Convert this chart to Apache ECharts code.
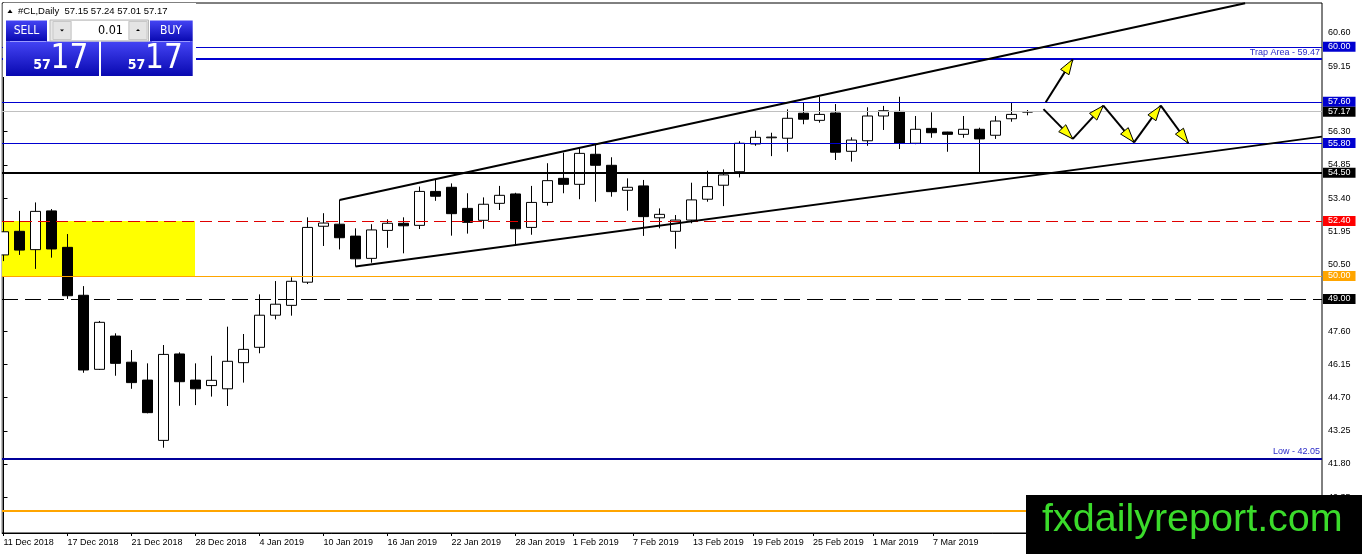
<!DOCTYPE html>
<html><head><meta charset="utf-8">
<script src="https://cdn.jsdelivr.net/npm/echarts@6/dist/echarts.min.js"></script>
<style>html,body{margin:0;padding:0;background:#fff}#c{width:1362px;height:554px}</style>
</head><body><div id="c"></div>
<script>
// ---------- DATA ----------
const dates = ['2018-12-11','2018-12-12','2018-12-13','2018-12-14','2018-12-17','2018-12-18','2018-12-19','2018-12-20','2018-12-21','2018-12-24','2018-12-26','2018-12-27','2018-12-28','2018-12-31','2019-01-02','2019-01-03','2019-01-04','2019-01-07','2019-01-08','2019-01-09','2019-01-10','2019-01-11','2019-01-14','2019-01-15','2019-01-16','2019-01-17','2019-01-18','2019-01-21','2019-01-22','2019-01-23','2019-01-24','2019-01-25','2019-01-28','2019-01-29','2019-01-30','2019-01-31','2019-02-01','2019-02-04','2019-02-05','2019-02-06','2019-02-07','2019-02-08','2019-02-11','2019-02-12','2019-02-13','2019-02-14','2019-02-15','2019-02-18','2019-02-19','2019-02-20','2019-02-21','2019-02-22','2019-02-25','2019-02-26','2019-02-27','2019-02-28','2019-03-01','2019-03-04','2019-03-05','2019-03-06','2019-03-07','2019-03-08','2019-03-11','2019-03-12','2019-03-13'];
const opens  = [50.92,51.95,51.15,52.84,51.25,49.16,45.93,47.38,46.24,45.46,42.83,46.60,45.46,45.22,45.08,46.22,46.89,48.29,48.72,49.73,52.17,52.26,51.74,50.77,51.99,52.30,52.21,53.69,53.87,52.95,52.43,53.17,53.58,52.12,53.21,54.26,54.00,55.31,54.83,53.74,53.93,52.54,51.95,52.44,53.35,53.96,54.55,55.76,56.03,56.01,57.10,56.79,57.11,55.44,55.90,56.98,57.18,55.79,56.44,56.28,56.18,56.40,56.14,56.86,57.15];
const highs  = [52.36,52.84,53.21,52.92,51.83,49.56,48.04,47.50,46.77,46.19,46.99,46.67,46.19,46.52,47.79,47.47,49.20,49.78,49.94,52.56,52.74,53.32,52.08,52.26,52.47,52.56,53.90,54.19,54.04,53.61,53.43,53.93,53.63,53.93,54.92,55.38,55.61,55.79,55.18,54.26,54.19,52.95,52.66,54.07,54.59,54.65,55.88,56.34,56.25,57.27,57.56,57.82,57.50,56.05,57.36,57.42,57.82,56.98,57.14,56.29,56.98,56.47,56.98,57.56,57.24];
const lows   = [50.65,50.92,50.31,50.80,49.00,45.78,45.90,45.65,45.08,44.01,42.51,44.34,44.37,44.74,44.33,45.35,46.63,48.11,48.27,49.65,51.31,51.16,50.41,50.58,51.23,50.99,52.05,53.28,51.76,51.85,52.06,52.88,51.31,51.80,53.07,53.61,53.35,53.24,53.46,52.85,51.75,52.08,51.19,52.30,53.24,53.05,54.30,55.68,55.23,55.42,56.62,56.69,55.06,54.99,55.68,56.37,55.54,55.75,56.03,55.42,56.03,54.51,55.98,56.73,57.01];
const closes = [51.93,51.13,52.82,51.18,49.14,45.90,47.98,46.19,45.35,44.04,46.58,45.39,45.08,45.45,46.28,46.80,48.29,48.77,49.77,52.12,52.31,51.67,50.75,52.01,52.30,52.19,53.69,53.48,52.72,52.34,53.13,53.52,52.06,53.21,54.16,54.00,55.35,54.83,53.68,53.87,52.59,52.69,52.44,53.32,53.90,54.41,55.79,56.05,56.06,56.88,56.84,57.05,55.40,55.93,56.98,57.21,55.79,56.40,56.25,56.18,56.40,55.98,56.76,57.05,57.17];

const xTickPos    = [0,4,8,12,16,20,24,28,32,35.6,39.35,43.1,46.85,50.6,54.35,58.1];
const xTickLabels = ['11 Dec 2018','17 Dec 2018','21 Dec 2018','28 Dec 2018','4 Jan 2019','10 Jan 2019','16 Jan 2019','22 Jan 2019','28 Jan 2019','1 Feb 2019','7 Feb 2019','13 Feb 2019','19 Feb 2019','25 Feb 2019','1 Mar 2019','7 Mar 2019'];
const yTickValues = [40.35,41.80,43.25,44.70,46.15,47.60,50.50,51.95,53.40,54.85,56.30,59.15,60.60];

// horizontal levels: 60.00, trap 59.47, 57.60, bid 57.17, 55.80, 54.50, 52.40, 50.00, 49.00, low 42.05, 39.75
const levels = [60.00, 59.47, 57.60, 57.17, 55.80, 54.50, 52.40, 50.00, 49.00, 42.05, 39.75];
const zoneX = [-0.09, 11.97];
const zoneY = [52.40, 50.00];
const upperChannel = [[21, 53.32], [77.6, 61.90]];
const lowerChannel = [[22, 50.41], [82.4, 56.08]];
const arrowUp = [[65.14, 57.58], [66.83, 59.45]];
const zigzag = [[65.0, 57.28], [66.83, 55.98], [68.74, 57.43], [70.66, 55.83], [72.33, 57.43], [74.05, 55.79]];
const header = '#CL,Daily  57.15 57.24 57.01 57.17';
const lotSize = '0.01';
const bidBig = ['57', '17'];
const askBig = ['57', '17'];
const watermark = 'fxdailyreport.com';

// ---------- BUILD ----------
const F = '"Liberation Sans", Arial, sans-serif';
const FN = '"Liberation Sans Narrow","DejaVu Sans Condensed","Liberation Sans",sans-serif';
const candles = dates.map((d, i) => [i, opens[i], closes[i], lows[i], highs[i]]);

const BLUE = '#0000D0';
function box(bg, fg) {
  return {show: true, position: 'end', distance: 1, formatter: p => Number(p.value).toFixed(2),
    backgroundColor: bg, color: fg || '#fff', fontSize: 9, fontFamily: F, padding: [1, 5, 0, 5], lineHeight: 9};
}
const levelStyles = [
  {lineStyle: {color: BLUE, width: 1, type: 'solid'}, label: box(BLUE)},
  {lineStyle: {color: BLUE, width: 2, type: 'solid'}, label: {show: true, position: 'insideEndTop', distance: 2, formatter: p => 'Trap Area - ' + Number(p.value).toFixed(2), color: '#2a2ac8', fontSize: 9, fontFamily: F}},
  {lineStyle: {color: BLUE, width: 1, type: 'solid'}, label: box(BLUE)},
  {lineStyle: {color: '#C0C0C0', width: 1, type: 'solid'}, label: box('#000')},
  {lineStyle: {color: BLUE, width: 1, type: 'solid'}, label: box(BLUE)},
  {lineStyle: {color: '#000', width: 2, type: 'solid'}, label: box('#000')},
  {lineStyle: {color: '#E00000', width: 1, type: [12, 6]}, label: box('#FF0000')},
  {lineStyle: {color: '#FFA500', width: 1, type: 'solid'}, label: box('#FFA500')},
  {lineStyle: {color: '#000', width: 1, type: [16, 7]}, label: box('#000')},
  {lineStyle: {color: '#00009A', width: 2, type: 'solid'}, label: {show: true, position: 'insideEndTop', distance: 2, formatter: p => 'Low - ' + Number(p.value).toFixed(2), color: '#2a2ac8', fontSize: 9, fontFamily: F}},
  {lineStyle: {color: '#FFA500', width: 2, type: 'solid'}, label: box('#FFA500')}
];
const markLines = levels.map((v, i) => Object.assign({yAxis: v}, levelStyles[i]));

const segs = [];
segs.push([arrowUp[0][0], arrowUp[0][1], arrowUp[1][0], arrowUp[1][1]]);
for (let i = 0; i < zigzag.length - 1; i++) segs.push([zigzag[i][0], zigzag[i][1], zigzag[i + 1][0], zigzag[i + 1][1]]);

function renderArrow(params, api) {
  const p1 = api.coord([api.value(0), api.value(1)]);
  const p2 = api.coord([api.value(2), api.value(3)]);
  const dx = p2[0] - p1[0], dy = p2[1] - p1[1];
  const len = Math.sqrt(dx * dx + dy * dy);
  const ux = dx / len, uy = dy / len;
  const L = 15, W = 5;
  const bx = p2[0] - ux * L, by = p2[1] - uy * L;
  return {type: 'group', children: [
    {type: 'line', shape: {x1: p1[0], y1: p1[1], x2: p2[0], y2: p2[1]}, style: {stroke: '#000', lineWidth: 2}},
    {type: 'polygon', shape: {points: [[p2[0], p2[1]], [bx - uy * W, by + ux * W], [bx + uy * W, by - ux * W]]}, style: {fill: '#FFFF00', stroke: '#000', lineWidth: 1}}
  ]};
}

function nearestLabel(v) {
  let b = 0;
  for (let i = 0; i < xTickPos.length; i++) if (Math.abs(xTickPos[i] - v) < Math.abs(xTickPos[b] - v)) b = i;
  return xTickLabels[b];
}

const grad = {type: 'linear', x: 0, y: 0, x2: 0, y2: 1, colorStops: [{offset: 0, color: '#4444F4'}, {offset: 1, color: '#0808B0'}]};
const Z = 100;
const graphics = [
  {type: 'rect', z: Z, shape: {x: 0, y: 0, width: 1.5, height: 554}, style: {fill: '#fff'}},
  {type: 'rect', z: Z, shape: {x: 3, y: 3, width: 193, height: 74}, style: {fill: '#fff'}},
  {type: 'polygon', z: Z, shape: {points: [[7.5, 13], [12.5, 13], [10, 9.5]]}, style: {fill: '#000'}},
  {type: 'text', z: Z, x: 18, y: 11, style: {text: header, font: '9.5px ' + F, fill: '#000', verticalAlign: 'middle'}},
  // SELL
  {type: 'rect', z: Z, shape: {x: 6, y: 20.5, width: 41, height: 21}, style: {fill: grad}},
  {type: 'rect', z: Z, shape: {x: 6, y: 41.5, width: 93, height: 34.5}, style: {fill: grad}},
  {type: 'line', z: Z + 1, shape: {x1: 10, y1: 41.5, x2: 46, y2: 41.5}, style: {stroke: '#9a9aff', lineWidth: 1}},
  {type: 'text', z: Z + 1, x: 26.5, y: 31, style: {text: 'SELL', font: '12px ' + FN, fill: '#fff', align: 'center', verticalAlign: 'middle'}},
  {type: 'text', z: Z + 1, x: 42, y: 65.5, style: {text: bidBig[0], font: 'bold 14px ' + FN, fill: '#fff', align: 'center', verticalAlign: 'middle'}},
  {type: 'text', z: Z + 1, x: 69.5, y: 59.5, style: {text: bidBig[1], font: '33px ' + FN, fill: '#fff', align: 'center', verticalAlign: 'middle'}},
  // BUY
  {type: 'rect', z: Z, shape: {x: 150, y: 20.5, width: 42.7, height: 21}, style: {fill: grad}},
  {type: 'rect', z: Z, shape: {x: 101, y: 41.5, width: 91.7, height: 34.5}, style: {fill: grad}},
  {type: 'line', z: Z + 1, shape: {x1: 152, y1: 41.5, x2: 190, y2: 41.5}, style: {stroke: '#9a9aff', lineWidth: 1}},
  {type: 'text', z: Z + 1, x: 171, y: 31, style: {text: 'BUY', font: '12px ' + FN, fill: '#fff', align: 'center', verticalAlign: 'middle'}},
  {type: 'text', z: Z + 1, x: 136.5, y: 65.5, style: {text: askBig[0], font: 'bold 14px ' + FN, fill: '#fff', align: 'center', verticalAlign: 'middle'}},
  {type: 'text', z: Z + 1, x: 164, y: 59.5, style: {text: askBig[1], font: '33px ' + FN, fill: '#fff', align: 'center', verticalAlign: 'middle'}},
  // spinner
  {type: 'rect', z: Z + 2, shape: {x: 50, y: 20, width: 98.5, height: 21}, style: {fill: '#E8E8E8', stroke: '#B8B8B8', lineWidth: 1}},
  {type: 'rect', z: Z + 2, shape: {x: 53, y: 21.5, width: 18, height: 18}, style: {fill: '#E4E4E4', stroke: '#C8C8C8', lineWidth: 1}},
  {type: 'rect', z: Z + 2, shape: {x: 72, y: 21, width: 56, height: 19}, style: {fill: '#fff'}},
  {type: 'rect', z: Z + 2, shape: {x: 129, y: 21.5, width: 18, height: 18}, style: {fill: '#E4E4E4', stroke: '#C8C8C8', lineWidth: 1}},
  {type: 'polygon', z: Z + 3, shape: {points: [[60, 29.5], [64, 29.5], [62, 31.5]]}, style: {fill: '#000'}},
  {type: 'polygon', z: Z + 3, shape: {points: [[136, 31], [140, 31], [138, 29]]}, style: {fill: '#000'}},
  {type: 'text', z: Z + 3, x: 123, y: 30.5, style: {text: lotSize, font: '12.5px ' + FN, fill: '#000', align: 'right', verticalAlign: 'middle'}},
  // watermark
  {type: 'rect', z: Z, shape: {x: 1026, y: 495, width: 336, height: 59}, style: {fill: '#000'}},
  {type: 'text', z: Z + 1, x: 1042, y: 520, style: {text: watermark, font: '39.5px ' + F, fill: '#3BDB2B', verticalAlign: 'middle'}}
];

const chart = echarts.init(document.getElementById('c'), null, {renderer: 'canvas'});
chart.setOption({
  animation: false,
  backgroundColor: '#fff',
  grid: {left: 2, right: 40, top: 3, bottom: 21, show: true, borderColor: '#000', borderWidth: 1, backgroundColor: '#fff', containLabel: false, outerBoundsMode: 'none'},
  xAxis: {
    type: 'value', min: -0.09375, max: 82.40625,
    splitLine: {show: false},
    axisLine: {show: true, onZero: false, lineStyle: {color: '#000', width: 1}},
    axisTick: {show: true, length: 3, customValues: xTickPos, lineStyle: {color: '#000'}},
    axisLabel: {show: true, customValues: xTickPos, formatter: v => nearestLabel(v), align: 'left', margin: 5, color: '#000', fontSize: 9, fontFamily: F}
  },
  yAxis: {
    type: 'value', position: 'right', min: 38.79, max: 61.909,
    splitLine: {show: false},
    axisLine: {show: true, lineStyle: {color: '#000', width: 1}},
    axisTick: {show: true, length: 4, customValues: yTickValues, lineStyle: {color: '#000'}},
    axisLabel: {show: true, customValues: yTickValues, formatter: v => Number(v).toFixed(2), margin: 6, color: '#000', fontSize: 9, fontFamily: F}
  },
  series: [
    {
      type: 'candlestick', data: candles, encode: {x: 0, y: [1, 2, 3, 4]}, barWidth: 10, silent: true, clip: true,
      itemStyle: {color: '#fff', color0: '#000', borderColor: '#000', borderColor0: '#000', borderColorDoji: '#000', borderWidth: 1},
      markArea: {silent: true, itemStyle: {color: '#FFFF00'}, data: [[{coord: [zoneX[0], zoneY[0]]}, {coord: [zoneX[1], zoneY[1]]}]]},
      markLine: {silent: true, symbol: ['none', 'none'], animation: false, data: markLines}
    },
    {type: 'line', data: upperChannel, symbol: 'none', silent: true, z: 6, lineStyle: {color: '#000', width: 2}},
    {type: 'line', data: lowerChannel, symbol: 'none', silent: true, z: 6, lineStyle: {color: '#000', width: 2}},
    {type: 'custom', data: segs, encode: {x: [0, 2], y: [1, 3]}, renderItem: renderArrow, silent: true, z: 7}
  ],
  graphic: graphics
});
</script>
</body></html>
